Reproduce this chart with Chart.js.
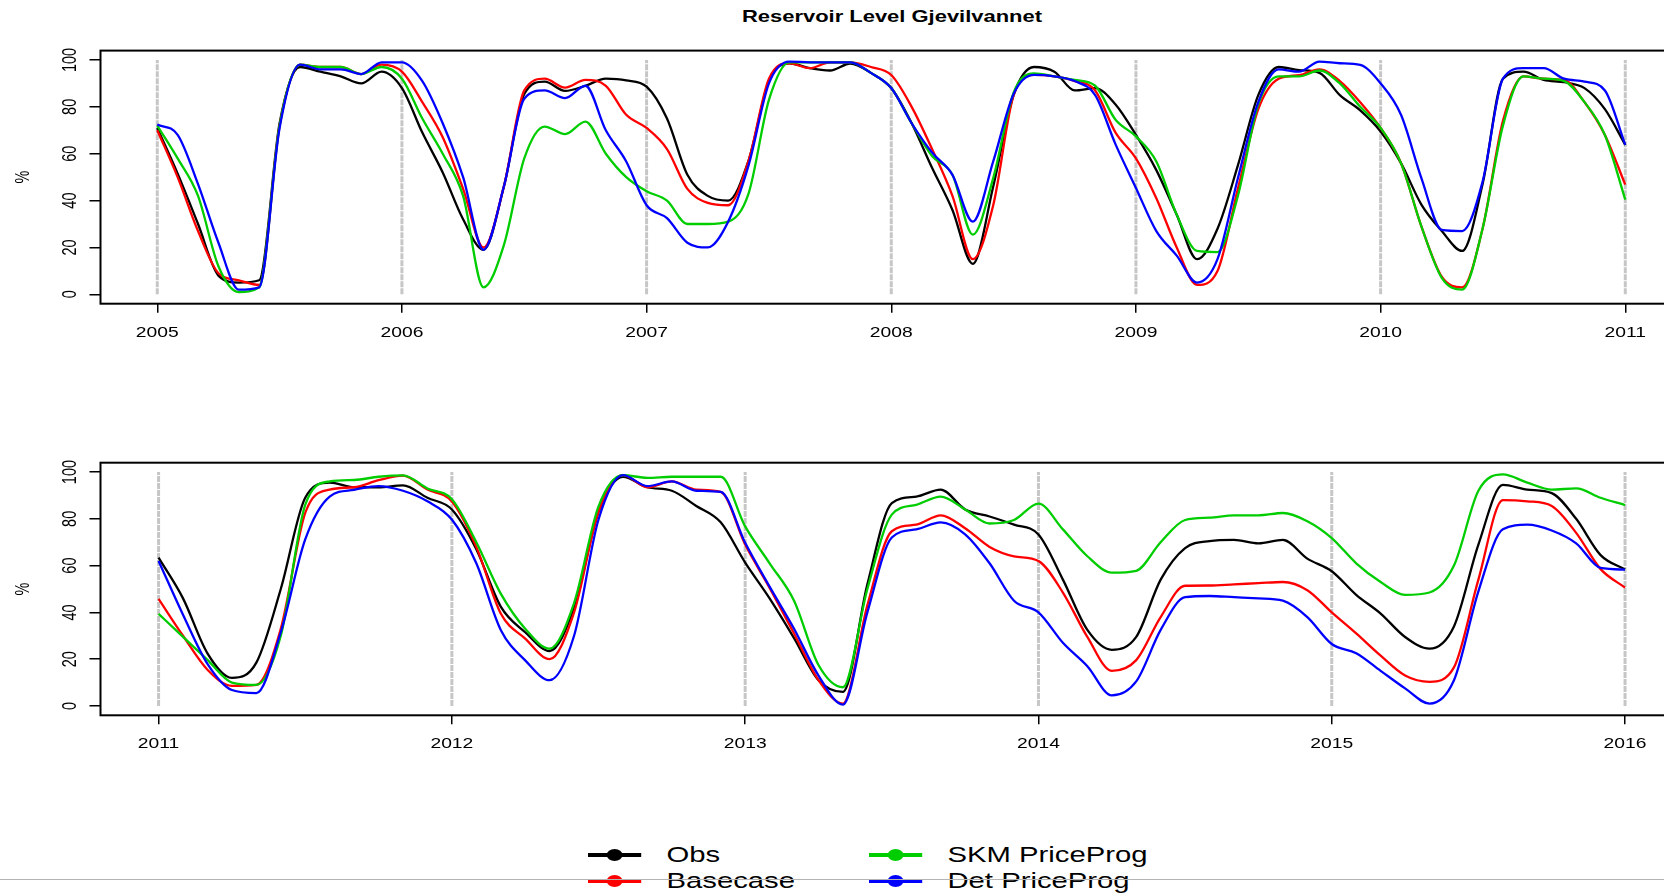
<!DOCTYPE html>
<html lang="en">
<head>
<meta charset="UTF-8">
<title>Reservoir Level Gjevilvannet</title>
<script src="https://cdn.jsdelivr.net/npm/chart.js"></script>
<style>
  html, body { margin: 0; padding: 0; width: 1664px; height: 893px; overflow: hidden; background: #fff; }
  body { font-family: "Liberation Sans", Arial, sans-serif; color: #000; position: relative; }
  canvas { position: absolute; left: 0; }
  #topChart { top: 0; }
  #bottomChart { top: 400px; }
  #title { position: absolute; top: 6px; left: 892px; font-weight: bold; font-size: 16.5px; line-height: 20px;
           white-space: nowrap; transform: translateX(-50%) scaleX(1.33); }
  .legend-item { position: absolute; height: 24px; display: flex; align-items: center; font-size: 22px;
                 white-space: nowrap; transform-origin: left center; transform: scaleX(1.33); }
  .legend-mark { position: relative; width: 40px; height: 4px; margin-right: 19px; }
  .legend-mark span { position: absolute; left: 14px; top: -4px; width: 12px; height: 12px; border-radius: 50%; }
  #divider { position: absolute; left: 0; top: 879px; width: 1664px; height: 1px; background: #b4b4b4; }
</style>
</head>
<body>
<div id="title">Reservoir Level Gjevilvannet</div>
<canvas id="topChart" width="1684" height="345"></canvas>
<canvas id="bottomChart" width="1684" height="360"></canvas>
<div id="legend"></div>
<div id="divider"></div>

<script>
// years on the x axis (ticks and grey year lines)
const topYears = [2005, 2006, 2007, 2008, 2009, 2010, 2011];
const bottomYears = [2011, 2012, 2013, 2014, 2015, 2016];
const yTicks = [0, 20, 40, 60, 80, 100];

const seriesNames = ['Obs', 'Basecase', 'SKM PriceProg', 'Det PriceProg'];
const seriesColors = ['#000000', '#ff0000', '#00cd00', '#0000ff'];

// reservoir level in %, one value per month, starting 1 January of the first year
const obsTop = [71, 51.5, 30, 8, 5, 6, 73, 97, 95, 93, 90, 95,
  88, 69, 52, 32, 19, 46, 85.5, 90.8, 86.8, 89, 92, 91.3,
  88.6, 75, 51, 42, 40, 57, 91, 98.6, 96.5, 95.5, 98.5, 94.5,
  88, 73, 54, 36, 13, 46, 85, 97, 95, 87, 88, 81,
  68, 53, 34, 15, 28, 55, 85, 97, 95.7, 94.5, 85, 78.5,
  69.5, 56, 38.3, 27, 18.5, 47, 92, 95, 91.5, 90.5, 88, 79,
  63.8];
const baseTop = [70, 50, 27, 9, 6, 4, 72, 98, 97, 97, 94, 98,
  95, 82, 67, 45, 20, 46, 87, 92, 88.2, 91.5, 89, 76.6,
  71, 62, 45, 39, 38, 57, 92, 98.6, 96.5, 99, 99, 97,
  93.6, 80, 62, 42, 15, 38, 85, 93.6, 93, 91, 87, 69,
  58, 41, 20, 4, 10, 45, 79, 92, 93.5, 96, 91, 82,
  71, 56, 29, 7.5, 3, 28, 74, 93, 92, 91.5, 82, 68,
  46.8];
const skmTop = [72, 58, 42, 12, 1, 3, 72, 98, 97, 97, 94, 97,
  92, 75, 60, 42, 3, 21, 58, 71.6, 68.4, 73.7, 60, 50,
  44, 40, 30, 30, 31, 43, 83, 99, 99, 99, 99, 94.5,
  88, 73, 59, 51, 25.5, 49.6, 86, 94.3, 93, 91.5, 89, 74.5,
  67.4, 56.7, 34, 18.5, 18, 42, 81, 93, 93, 95.5, 90, 80,
  71, 56, 29, 7, 2, 28, 72, 93, 92, 91, 82, 68,
  40.4];
const detTop = [72.5, 68, 47, 22, 2, 3, 71, 98, 96, 96, 94, 99,
  99, 91, 73, 50, 19, 46, 83.5, 87, 83.7, 89, 70, 56.7,
  38, 32.5, 22, 20, 31, 55, 90, 99.3, 99, 99, 99, 94.5,
  88, 73, 60.5, 51, 31, 56.7, 85.5, 93.6, 93, 91, 85, 64,
  45.4, 27, 16.5, 5, 15, 49.5, 82, 96, 95, 99.3, 98.6, 97.9,
  90, 76.6, 49.6, 27.5, 27, 48, 92, 96.5, 96.5, 92, 90.8, 87,
  63.8];

const obsBottom = [63.4, 46, 22.5, 12, 18.5, 50, 89, 95.5, 93.5, 93.5, 94.3, 89,
  84, 67, 42.5, 31.5, 23.5, 42, 83, 98, 93.5, 92, 85.5, 78.5,
  61.3, 46, 29, 11, 6, 52, 86.7, 89.5, 92.5, 84, 81, 77.5,
  73.3, 54, 32.5, 24, 29.5, 54, 67.5, 70.5, 71, 69.5, 71, 63,
  57.6, 47.5, 39.5, 29.5, 24.5, 34, 69, 94.5, 92.5, 91, 80, 64.5,
  58.3];
const baseBottom = [45.8, 30, 15.5, 8.6, 9, 33, 82.5, 92.5, 93.5, 96.5, 98.5, 92.5,
  87.4, 68, 39.5, 28.8, 20, 40, 83, 98.7, 93.5, 96, 92.5, 91.5,
  69, 50.5, 31, 11, 1, 43, 74.7, 77.5, 81.5, 76, 68, 64,
  62, 48.5, 29.5, 15, 19.6, 38, 51.4, 51.5, 52, 52.5, 53, 49.5,
  40, 31, 21.5, 13, 10.3, 16.5, 54, 88, 87.5, 85.5, 74, 58.5,
  50.6];
const skmBottom = [39.4, 29.5, 19.7, 10, 9, 30, 86, 96, 96.6, 98, 98.6, 93,
  88.4, 70, 48, 33, 24.5, 44, 85.3, 98.7, 97.5, 98, 98, 98,
  76.8, 61, 45, 17.5, 8, 50, 81.8, 86, 89.5, 84, 78, 79.5,
  86.5, 75.5, 64, 57, 57.8, 70, 79.5, 80.5, 81.5, 81.5, 82.5, 79,
  71.8, 61, 53, 47.5, 48.5, 60, 92, 99, 95.5, 92.5, 93, 89,
  85.9];
const detBottom = [62, 39, 18, 6.8, 5.5, 31.5, 71.2, 89.5, 92.4, 94, 92, 87.5,
  79.7, 61, 32.5, 19.5, 11, 30, 79.7, 98.7, 94, 96, 92, 91.5,
  69.8, 51, 33, 13, 0.6, 40, 72, 75.5, 78.5, 73.4, 61, 45,
  40, 27, 17, 4.5, 10.5, 32.5, 46.5, 47, 46.5, 46, 45, 38,
  26.5, 22.5, 15, 7.5, 1, 11, 49, 75.5, 77.5, 75, 69.5, 59,
  58.3];

const STRETCH = 1.33;   // the picture is a bit wider than tall, text too
const labelFont = '14.5px "Liberation Sans", Arial, sans-serif';

// box round the plot, tick labels and the "%" title
const framePlugin = {
  id: 'frame',
  afterDraw(chart) {
    const { ctx, chartArea: a, scales: { x, y } } = chart;
    ctx.save();
    ctx.strokeStyle = '#000';
    ctx.lineWidth = 2;
    ctx.strokeRect(a.left, a.top, a.right - a.left, a.bottom - a.top);

    ctx.fillStyle = '#000';
    ctx.font = labelFont;
    ctx.textAlign = 'center';
    ctx.textBaseline = 'alphabetic';
    x.ticks.forEach(t => {
      ctx.save();
      ctx.translate(x.getPixelForValue(t.value), a.bottom + 33);
      ctx.scale(STRETCH, 1);
      ctx.fillText(String(t.value), 0, 0);
      ctx.restore();
    });
    y.ticks.forEach(t => {
      ctx.save();
      ctx.translate(76, y.getPixelForValue(t.value));
      ctx.scale(STRETCH, 1);
      ctx.rotate(-Math.PI / 2);
      ctx.fillText(String(t.value), 0, 0);
      ctx.restore();
    });
    ctx.save();
    ctx.translate(29, (a.top + a.bottom) / 2);
    ctx.scale(STRETCH, 1);
    ctx.rotate(-Math.PI / 2);
    ctx.fillText('%', 0, 0);
    ctx.restore();
    ctx.restore();
  }
};

function makeChart(id, years, seriesList, xMin, xMax, padTop, axisHeight) {
  const datasets = seriesList.map((vals, i) => ({
    label: seriesNames[i],
    data: vals.map((v, j) => ({ x: years[0] + j / 12, y: v })),
    borderColor: seriesColors[i],
    borderWidth: 2.3,
    pointRadius: 0,
    cubicInterpolationMode: 'monotone',
    order: 3 - i
  }));
  // grey vertical line at each new year
  years.forEach(yr => datasets.push({
    label: 'year ' + yr,
    data: [{ x: yr, y: 0 }, { x: yr, y: 100 }],
    borderColor: '#c6c6c6',
    borderWidth: 3,
    borderDash: [6, 1],
    pointRadius: 0,
    tension: 0,
    order: 10
  }));

  return new Chart(document.getElementById(id), {
    type: 'line',
    data: { datasets },
    plugins: [framePlugin],
    options: {
      responsive: false,
      animation: false,
      events: [],
      layout: { padding: { top: padTop, left: 0, right: 0, bottom: 0 } },
      plugins: { legend: { display: false }, tooltip: { enabled: false } },
      scales: {
        x: {
          type: 'linear', min: xMin, max: xMax,
          afterBuildTicks: s => { s.ticks = years.map(v => ({ value: v })); },
          afterFit: s => { s.height = axisHeight; },
          ticks: { display: false },
          grid: { drawOnChartArea: false, drawTicks: true, tickLength: 9, color: '#000', lineWidth: 1.5 },
          border: { display: false }
        },
        y: {
          type: 'linear', min: -4, max: 104,
          afterBuildTicks: s => { s.ticks = yTicks.map(v => ({ value: v })); },
          afterFit: s => { s.width = 100.5; },
          ticks: { display: false },
          grid: { drawOnChartArea: false, drawTicks: true, tickLength: 11, color: '#000', lineWidth: 1.5 },
          border: { display: false }
        }
      }
    }
  });
}

makeChart('topChart', topYears, [obsTop, baseTop, skmTop, detTop], 2004.768, 2011.24, 50.6, 41.3);
makeChart('bottomChart', bottomYears, [obsBottom, baseBottom, skmBottom, detBottom], 2010.802, 2016.201, 62.7, 44.7);

// legend, two columns
const legendSpots = [[588, 843], [588, 869], [869, 843], [869, 869]];
const legend = document.getElementById('legend');
seriesNames.forEach((name, i) => {
  const item = document.createElement('div');
  item.className = 'legend-item';
  item.style.left = legendSpots[i][0] + 'px';
  item.style.top = legendSpots[i][1] + 'px';
  const mark = document.createElement('div');
  mark.className = 'legend-mark';
  mark.style.background = seriesColors[i];
  const dot = document.createElement('span');
  dot.style.background = seriesColors[i];
  mark.appendChild(dot);
  const text = document.createElement('span');
  text.textContent = name;
  item.appendChild(mark);
  item.appendChild(text);
  legend.appendChild(item);
});
</script>
</body>
</html>
